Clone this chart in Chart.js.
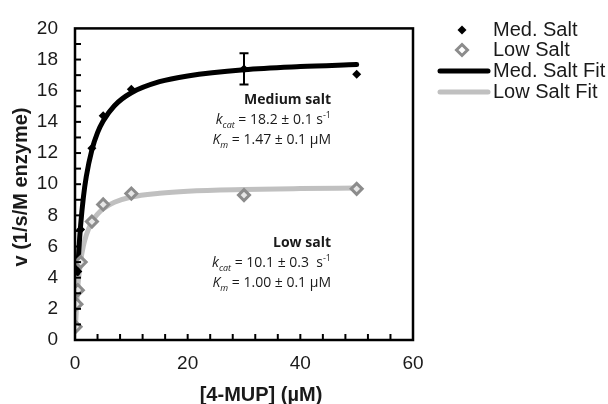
<!DOCTYPE html>
<html lang="en">

<head>
    <meta charset="UTF-8">
    <title>4-MUP kinetics</title>
    <script src="https://cdn.jsdelivr.net/npm/chart.js"></script>
    <style>
        body {
            margin: 0;
            background: #fff;
        }

        .wrap {
            position: relative;
            width: 608px;
            height: 404px;
        }

        .note {
            position: absolute;
            right: 277px;
            text-align: right;
            font-family: "Open Sans", "Noto Sans", sans-serif;
            font-size: 14px;
            line-height: 20px;
            color: #1a1a1a;
            white-space: nowrap;
        }

        .note b {
            font-weight: 700;
        }

        .note sub, .note sup {
            font-size: 9px;
            line-height: 0;
        }
    </style>
</head>

<body>
    <div class="wrap">
        <canvas id="mmChart" width="608" height="404"></canvas>
        <div class="note" style="top:89px;">
            <b>Medium salt</b><br>
            <i>k</i><sub><i>cat</i></sub> = 18.2 ± 0.1 s<sup>-1</sup><br>
            <i>K</i><sub><i>m</i></sub> = 1.47 ± 0.1 µM
        </div>
        <div class="note" style="top:232px;">
            <b>Low salt</b><br>
            <i>k</i><sub><i>cat</i></sub> = 10.1 ± 0.3 &nbsp;s<sup>-1</sup><br>
            <i>K</i><sub><i>m</i></sub> = 1.00 ± 0.1 µM
        </div>
    </div>

    <script>
        // measured points
        const medConc = [0.5, 1, 3, 5, 10, 30, 50];
        const medSalt = [4.4, 7.1, 12.3, 14.4, 16.1, 17.4, 17.05];
        const medErr = [0, 0, 0, 0, 0, 1.0, 0];

        const lowConc = [0.1, 0.25, 0.5, 1, 3, 5, 10, 30, 50];
        const lowSalt = [0.85, 2.3, 3.2, 5.0, 7.6, 8.7, 9.4, 9.3, 9.7];

        // fit curves
        const medFitX = [0.45, 0.7, 1, 1.5, 2, 3, 4, 5, 7, 10, 15, 20, 30, 40, 50];
        const medFitY = [4.27, 5.87, 7.37, 9.19, 10.49, 12.21, 13.31, 14.06, 15.04, 15.87, 16.58, 16.95, 17.35, 17.55, 17.68];

        const lowFitX = [0.1, 0.25, 0.5, 0.75, 1, 1.5, 2, 3, 4, 5, 7, 10, 15, 20, 30, 40, 50];
        const lowFitY = [0.92, 2.02, 3.37, 4.33, 5.05, 6.06, 6.73, 7.58, 8.08, 8.42, 8.84, 9.18, 9.42, 9.55, 9.66, 9.72, 9.76];

        const xTicks = [0, 20, 40, 60];
        const yTicks = [0, 2, 4, 6, 8, 10, 12, 14, 16, 18, 20];

        const xTitle = '[4-MUP] (µM)';
        const yTitle = 'v (1/s/M enzyme)';
        const legendItems = ['Med. Salt', 'Low Salt', 'Med. Salt Fit', 'Low Salt Fit'];

        const fontFam = '"Liberation Sans", Arial, sans-serif';

        function pairs(xs, ys) {
            return xs.map((x, i) => ({ x: x, y: ys[i] }));
        }

        function diamond(ctx, x, y, r) {
            ctx.beginPath();
            ctx.moveTo(x, y - r);
            ctx.lineTo(x + r, y);
            ctx.lineTo(x, y + r);
            ctx.lineTo(x - r, y);
            ctx.closePath();
        }

        // box, inward ticks, error bar, axis titles and legend
        const decor = {
            id: 'decor',
            afterDatasetsDraw(chart) {
                const ctx = chart.ctx;
                const xs = chart.scales.x;
                const ys = chart.scales.y;

                ctx.save();
                ctx.strokeStyle = '#000';
                ctx.lineWidth = 2;
                medConc.forEach((c, i) => {
                    if (!medErr[i]) return;
                    const px = xs.getPixelForValue(c);
                    const top = ys.getPixelForValue(medSalt[i] + medErr[i]);
                    const bot = ys.getPixelForValue(medSalt[i] - medErr[i]);
                    ctx.beginPath();
                    ctx.moveTo(px, top);
                    ctx.lineTo(px, bot);
                    ctx.moveTo(px - 4.5, top);
                    ctx.lineTo(px + 4.5, top);
                    ctx.moveTo(px - 4.5, bot);
                    ctx.lineTo(px + 4.5, bot);
                    ctx.stroke();
                });
                ctx.restore();
            },
            afterDraw(chart) {
                const ctx = chart.ctx;
                const a = chart.chartArea;
                const xs = chart.scales.x;
                const ys = chart.scales.y;

                ctx.save();
                ctx.strokeStyle = '#000';
                ctx.lineWidth = 2;
                for (let v = 4; v < 60; v += 4) {
                    const px = xs.getPixelForValue(v);
                    ctx.beginPath();
                    ctx.moveTo(px, a.bottom);
                    ctx.lineTo(px, a.bottom - 6);
                    ctx.stroke();
                }
                for (let v = 1; v < 20; v += 1) {
                    const py = ys.getPixelForValue(v);
                    ctx.beginPath();
                    ctx.moveTo(a.left, py);
                    ctx.lineTo(a.left + 6, py);
                    ctx.stroke();
                }
                ctx.lineWidth = 2.5;
                ctx.strokeRect(a.left, a.top, a.right - a.left, a.bottom - a.top);

                // axis titles
                ctx.fillStyle = '#1a1a1a';
                ctx.font = 'bold 20px ' + fontFam;
                ctx.textAlign = 'center';
                ctx.textBaseline = 'middle';
                ctx.fillText(xTitle, 261, 395);
                ctx.save();
                ctx.translate(21, 187);
                ctx.rotate(-Math.PI / 2);
                ctx.fillText(yTitle, 0, 0);
                ctx.restore();

                // legend
                const lx = 493;
                const rows = [30, 50, 71, 92];
                ctx.font = '20px ' + fontFam;
                ctx.textAlign = 'left';
                legendItems.forEach((t, i) => ctx.fillText(t, lx, rows[i]));

                ctx.fillStyle = '#000';
                diamond(ctx, 462, rows[0], 4.5);
                ctx.fill();

                ctx.strokeStyle = '#8c8c8c';
                ctx.fillStyle = '#fff';
                ctx.lineWidth = 3;
                diamond(ctx, 462, rows[1], 5.5);
                ctx.fill();
                ctx.stroke();

                ctx.lineCap = 'round';
                ctx.lineWidth = 5;
                ctx.strokeStyle = '#000';
                ctx.beginPath();
                ctx.moveTo(440, rows[2]);
                ctx.lineTo(488, rows[2]);
                ctx.stroke();
                ctx.strokeStyle = '#c0c0c0';
                ctx.beginPath();
                ctx.moveTo(440, rows[3]);
                ctx.lineTo(488, rows[3]);
                ctx.stroke();
                ctx.restore();
            }
        };

        const tickFont = { family: fontFam, size: 19 };

        new Chart(document.getElementById('mmChart'), {
            type: 'scatter',
            data: {
                datasets: [{
                    label: 'Med. Salt',
                    data: pairs(medConc, medSalt),
                    pointStyle: 'rectRot',
                    pointRadius: 4.5,
                    backgroundColor: '#000',
                    borderColor: '#000',
                    borderWidth: 0,
                    order: 0
                }, {
                    label: 'Low Salt',
                    data: pairs(lowConc, lowSalt),
                    pointStyle: 'rectRot',
                    pointRadius: 5.5,
                    backgroundColor: '#e6e6e6',
                    borderColor: '#8c8c8c',
                    borderWidth: 3,
                    order: 1
                }, {
                    label: 'Med. Salt Fit',
                    data: pairs(medFitX, medFitY),
                    showLine: true,
                    pointRadius: 0,
                    borderColor: '#000',
                    borderWidth: 5,
                    cubicInterpolationMode: 'monotone',
                    borderCapStyle: 'round',
                    order: 2
                }, {
                    label: 'Low Salt Fit',
                    data: pairs(lowFitX, lowFitY),
                    showLine: true,
                    pointRadius: 0,
                    borderColor: '#c0c0c0',
                    borderWidth: 5,
                    cubicInterpolationMode: 'monotone',
                    borderCapStyle: 'round',
                    order: 3
                }]
            },
            options: {
                responsive: false,
                animation: false,
                layout: {
                    padding: { top: 17, right: 195, bottom: 0, left: 0 }
                },
                plugins: {
                    legend: { display: false },
                    tooltip: { enabled: false }
                },
                scales: {
                    x: {
                        type: 'linear',
                        min: 0,
                        max: 60,
                        afterFit: s => { s.height = 64; },
                        afterBuildTicks: s => { s.ticks = xTicks.map(v => ({ value: v })); },
                        grid: { display: false, drawTicks: false },
                        border: { display: false },
                        ticks: { color: '#1a1a1a', font: tickFont, padding: 12, maxRotation: 0 },
                        title: { display: false }
                    },
                    y: {
                        type: 'linear',
                        min: 0,
                        max: 20,
                        afterFit: s => { s.width = 75; },
                        afterBuildTicks: s => { s.ticks = yTicks.map(v => ({ value: v })); },
                        grid: { display: false, drawTicks: false },
                        border: { display: false },
                        ticks: { color: '#1a1a1a', font: tickFont, padding: 17 },
                        title: { display: false }
                    }
                }
            },
            plugins: [decor]
        });
    </script>
</body>

</html>
